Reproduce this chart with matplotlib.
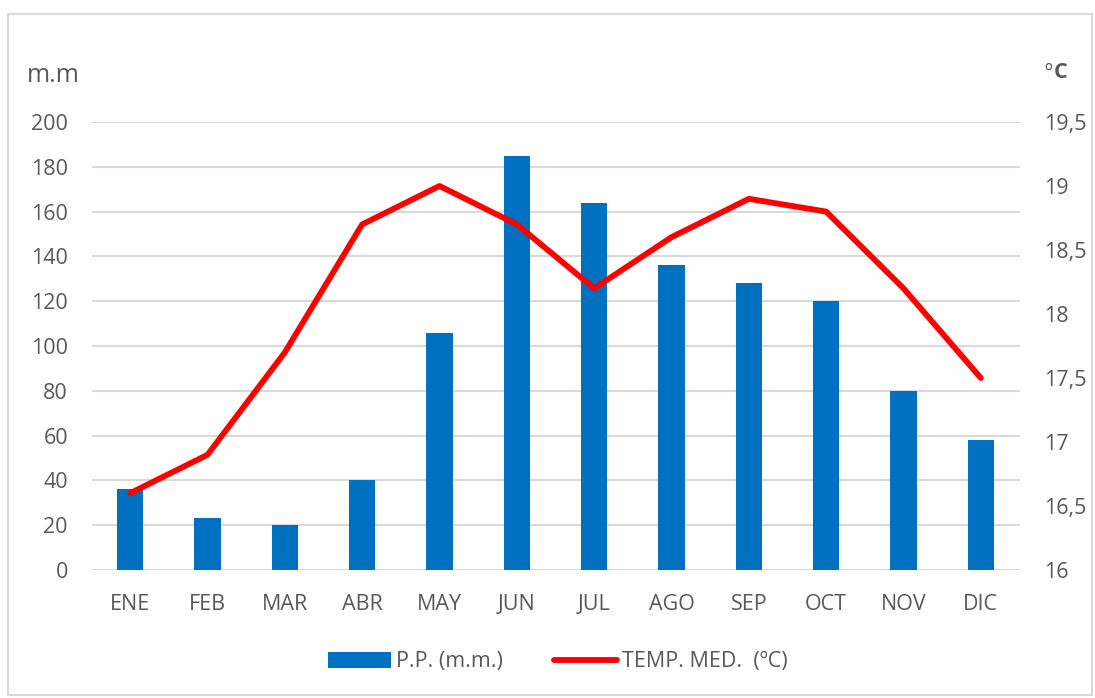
import matplotlib
matplotlib.use("Agg")
import matplotlib.pyplot as plt
from matplotlib.patches import Rectangle, Patch
from matplotlib.lines import Line2D
from matplotlib.ticker import FuncFormatter

months = ["ENE", "FEB", "MAR", "ABR", "MAY", "JUN", "JUL", "AGO", "SEP", "OCT", "NOV", "DIC"]
precip_mm = [36, 23, 20, 40, 106, 185, 164, 136, 128, 120, 80, 58]
temp_c = [16.6, 16.9, 17.7, 18.7, 19.0, 18.7, 18.2, 18.6, 18.9, 18.8, 18.2, 17.5]
left_ticks = [0, 20, 40, 60, 80, 100, 120, 140, 160, 180, 200]
right_ticks = [16, 16.5, 17, 17.5, 18, 18.5, 19, 19.5]

plt.rcParams["font.family"] = ["Open Sans", "DejaVu Sans"]
text_color = "#595959"
bar_color = "#0070C0"
line_color = "#FF0000"
grid_color = "#D9D9D9"
fs = 15.5

W, H = 1095, 698
fig = plt.figure(figsize=(W / 100, H / 100), dpi=100)
fig.patches.append(Rectangle((8 / W, 3 / H), 1084 / W, 681 / H,
                             transform=fig.transFigure, fill=False,
                             edgecolor="#D9D9D9", linewidth=1.5))

ax = fig.add_axes([91.5 / W, 1 - 570 / H, (1019.5 - 91.5) / W, (570 - 122) / H])
x = list(range(len(months)))
ax.bar(x, precip_mm, width=0.34, color=bar_color, zorder=2)
ax.set_xlim(-0.5, len(months) - 0.5)
ax.set_ylim(0, 200)
ax.set_yticks(left_ticks)
ax.set_xticks(x)
ax.set_xticklabels(months)
ax.yaxis.grid(True, color=grid_color, linewidth=1.5, zorder=0)
ax.set_axisbelow(True)
for s in ax.spines.values():
    s.set_visible(False)
ax.tick_params(axis="both", length=0, colors=text_color, labelsize=fs)
ax.tick_params(axis="y", pad=17)
ax.tick_params(axis="x", pad=17)

ax2 = ax.twinx()
ax2.plot(x, temp_c, color=line_color, linewidth=4.2, solid_capstyle="round",
         solid_joinstyle="round", zorder=3)
ax2.set_ylim(16, 19.5)
ax2.set_yticks(right_ticks)
ax2.yaxis.set_major_formatter(FuncFormatter(lambda v, p: ("%g" % v).replace(".", ",")))
for s in ax2.spines.values():
    s.set_visible(False)
ax2.tick_params(axis="y", length=0, colors=text_color, labelsize=fs, pad=18)

fig.text(27 / W, 1 - 82 / H, "m.m", color=text_color, fontsize=18, va="baseline", ha="left")
fig.text(1044 / W, 1 - 78 / H, "º", color=text_color, fontsize=15, va="baseline", ha="left")
fig.text(1054 / W, 1 - 78 / H, "C", color=text_color, fontsize=15.5, va="baseline",
         ha="left", fontweight="bold")

handles = [Patch(facecolor=bar_color, edgecolor="none"),
           Line2D([0], [0], color=line_color, linewidth=4.2, solid_capstyle="round")]
fig.legend(handles, ["P.P. (m.m.)", "TEMP. MED.  (ºC)"], loc="center",
           bbox_to_anchor=(558 / W, 1 - 662 / H), ncol=2, frameon=False,
           fontsize=fs, labelcolor=text_color, handlelength=2.9, handleheight=0.8,
           handletextpad=0.25, columnspacing=2.4)

fig.savefig("out.png", dpi=100)
